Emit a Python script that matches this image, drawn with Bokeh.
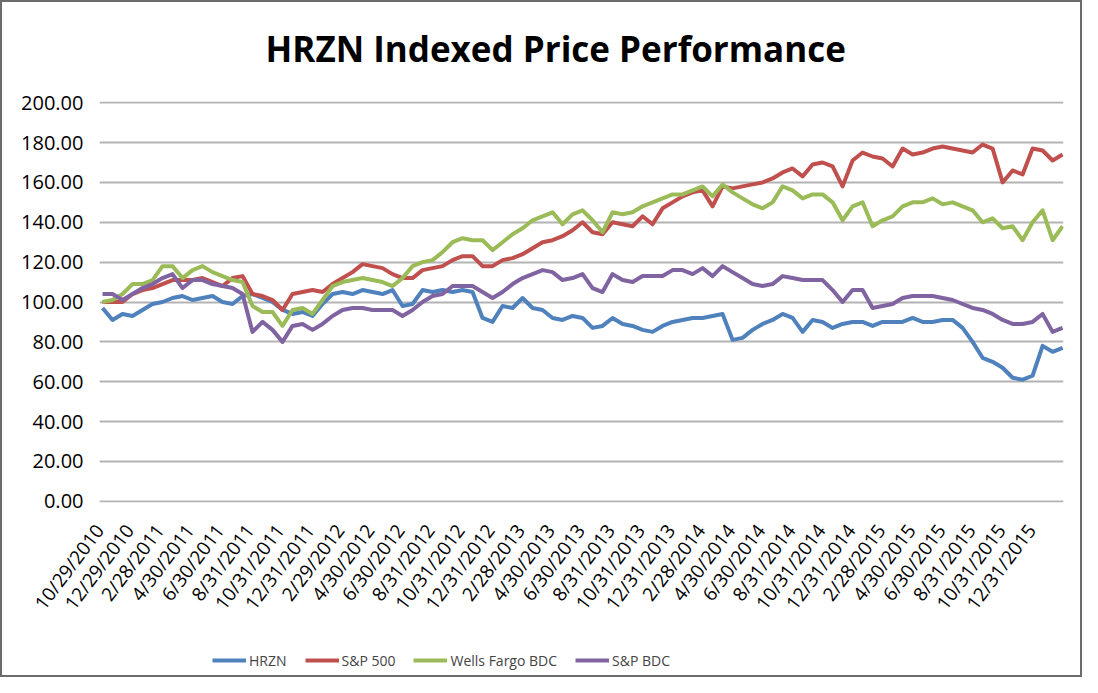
import numpy as np
from bokeh.plotting import figure
from bokeh.layouts import column
from bokeh.models import Range1d, FixedTicker, NumeralTickFormatter, Legend, LegendItem
from bokeh.embed import file_html
from bokeh.resources import INLINE

title_text = "HRZN Indexed Price Performance"

tick_labels = ["10/29/2010", "12/29/2010", "2/28/2011", "4/30/2011", "6/30/2011", "8/31/2011",
               "10/31/2011", "12/31/2011", "2/29/2012", "4/30/2012", "6/30/2012", "8/31/2012",
               "10/31/2012", "12/31/2012", "2/28/2013", "4/30/2013", "6/30/2013", "8/31/2013",
               "10/31/2013", "12/31/2013", "2/28/2014", "4/30/2014", "6/30/2014", "8/31/2014",
               "10/31/2014", "12/31/2014", "2/28/2015", "4/30/2015", "6/30/2015", "8/31/2015",
               "10/31/2015", "12/31/2015"]

series_names = ["HRZN", "S&P 500", "Wells Fargo BDC", "S&P BDC"]

hrzn = [97, 91, 94, 93, 96, 99, 100, 102, 103, 101, 102, 103, 100, 99, 103, 104, 102, 100, 96, 94,
        95, 93, 99, 104, 105, 104, 106, 105, 104, 106, 98, 99, 106, 105, 106, 105, 106, 105, 92, 90,
        98, 97, 102, 97, 96, 92, 91, 93, 92, 87, 88, 92, 89, 88, 86, 85, 88, 90, 91, 92,
        92, 93, 94, 81, 82, 86, 89, 91, 94, 92, 85, 91, 90, 87, 89, 90, 90, 88, 90, 90,
        90, 92, 90, 90, 91, 91, 87, 80, 72, 70, 67, 62, 61, 63, 78, 75, 77]

sp500 = [100, 100, 100, 104, 106, 107, 109, 111, 111, 111, 112, 110, 108, 112, 113, 104, 103, 101, 96, 104,
         105, 106, 105, 109, 112, 115, 119, 118, 117, 114, 112, 112, 116, 117, 118, 121, 123, 123, 118, 118,
         121, 122, 124, 127, 130, 131, 133, 136, 140, 135, 134, 140, 139, 138, 143, 139, 147, 150, 153, 155,
         156, 148, 158, 157, 158, 159, 160, 162, 165, 167, 163, 169, 170, 168, 158, 171, 175, 173, 172, 168,
         177, 174, 175, 177, 178, 177, 176, 175, 179, 177, 160, 166, 164, 177, 176, 171, 174]

wells_fargo_bdc = [100, 101, 104, 109, 109, 111, 118, 118, 112, 116, 118, 115, 113, 111, 110, 98, 95, 95, 88, 96,
                   97, 94, 101, 108, 110, 111, 112, 111, 110, 108, 112, 118, 120, 121, 125, 130, 132, 131, 131, 126,
                   130, 134, 137, 141, 143, 145, 139, 144, 146, 141, 135, 145, 144, 145, 148, 150, 152, 154, 154, 156,
                   158, 153, 159, 155, 152, 149, 147, 150, 158, 156, 152, 154, 154, 150, 141, 148, 150, 138, 141, 143,
                   148, 150, 150, 152, 149, 150, 148, 146, 140, 142, 137, 138, 131, 140, 146, 131, 138]

sp_bdc = [104, 104, 101, 104, 107, 109, 112, 114, 107, 111, 111, 109, 108, 107, 104, 85, 90, 86, 80, 88,
          89, 86, 89, 93, 96, 97, 97, 96, 96, 96, 93, 96, 100, 103, 104, 108, 108, 108, 105, 102,
          105, 109, 112, 114, 116, 115, 111, 112, 114, 107, 105, 114, 111, 110, 113, 113, 113, 116, 116, 114,
          117, 113, 118, 115, 112, 109, 108, 109, 113, 112, 111, 111, 111, 106, 100, 106, 106, 97, 98, 99,
          102, 103, 103, 103, 102, 101, 99, 97, 96, 94, 91, 89, 89, 90, 94, 85, 87]

colors = ["#4F81BD", "#C0504D", "#9BBB59", "#8064A2"]
all_series = [hrzn, sp500, wells_fargo_bdc, sp_bdc]

W = 1078
BL, BR = 97, 17

# sample positions along the category axis (in units of label intervals)
n = len(hrzn)
x_start, x_end = 0.10, 32.04
xs = np.linspace(x_start, x_end, n)

# ---- title strip (a real plot title) ----
tt = figure(width=W, height=85, output_backend="svg", toolbar_location=None,
            x_range=Range1d(0, 1), y_range=Range1d(0, 1),
            min_border_left=BL, min_border_right=BR, min_border_top=80, min_border_bottom=0)
tt.axis.visible = False
tt.grid.visible = False
tt.outline_line_color = None
tt.title.text = title_text
tt.title.align = "left"
tt.title.offset = 166
tt.title.standoff = 22
tt.title.text_font = "Open Sans"
tt.title.text_font_style = "bold"
tt.title.text_font_size = "35px"
tt.title.text_color = "#000000"

# ---- main chart ----
p = figure(width=W, height=555, output_backend="svg", toolbar_location=None,
           x_range=Range1d(0, 32.07), y_range=Range1d(-0.6, 200.6),
           min_border_left=BL, min_border_right=BR, min_border_top=14, min_border_bottom=140)
p.outline_line_color = None
p.background_fill_color = "white"
p.border_fill_color = "white"

renderers = []
for data, c in zip(all_series, colors):
    r = p.line(xs, data, line_color=c, line_width=4, line_join="round")
    renderers.append(r)

p.xgrid.grid_line_color = None
p.ygrid.grid_line_color = "#b3b3b3"
p.ygrid.grid_line_width = 2
p.ygrid.ticker = FixedTicker(ticks=list(range(0, 201, 20)))

p.yaxis.ticker = FixedTicker(ticks=list(range(0, 201, 20)))
p.yaxis.formatter = NumeralTickFormatter(format="0.00")
p.yaxis.axis_line_color = None
p.yaxis.major_tick_line_color = None
p.yaxis.minor_tick_line_color = None
p.yaxis.major_label_text_font = "Open Sans"
p.yaxis.major_label_text_font_size = "20px"
p.yaxis.major_label_text_color = "#000000"
p.yaxis.major_label_standoff = 10

p.xaxis.ticker = FixedTicker(ticks=list(range(len(tick_labels))))
p.xaxis.major_label_overrides = {i: lab for i, lab in enumerate(tick_labels)}
p.xaxis.major_label_orientation = 0.925
p.xaxis.axis_line_color = None
p.xaxis.major_tick_line_color = None
p.xaxis.minor_tick_line_color = None
p.xaxis.major_label_text_font = "Open Sans"
p.xaxis.major_label_text_font_size = "19px"
p.xaxis.major_label_text_color = "#000000"
p.xaxis.major_label_standoff = 18

# ---- legend strip (series drawn outside its visible range; only the key shows) ----
lg = figure(width=W, height=33, output_backend="svg", toolbar_location=None,
            x_range=Range1d(0, 1), y_range=Range1d(-2, -1),
            min_border_left=BL, min_border_right=BR, min_border_top=0, min_border_bottom=0)
lg.axis.visible = False
lg.grid.visible = False
lg.outline_line_color = None
lg_renderers = [lg.line(xs, data, line_color=c, line_width=4) for data, c in zip(all_series, colors)]
legend = Legend(items=[LegendItem(label=nm, renderers=[r]) for nm, r in zip(series_names, lg_renderers)],
                orientation="horizontal", location=(113, 5),
                border_line_color=None, background_fill_alpha=0,
                label_text_font="Open Sans", label_text_font_size="14px",
                glyph_width=34, glyph_height=20, label_standoff=3, spacing=18,
                padding=0, margin=0)
lg.add_layout(legend, "center")

layout = column(tt, p, lg, spacing=0, styles={"border": "2px solid #6b6b6b"})

open("out.html", "w").write(file_html(layout, INLINE))
